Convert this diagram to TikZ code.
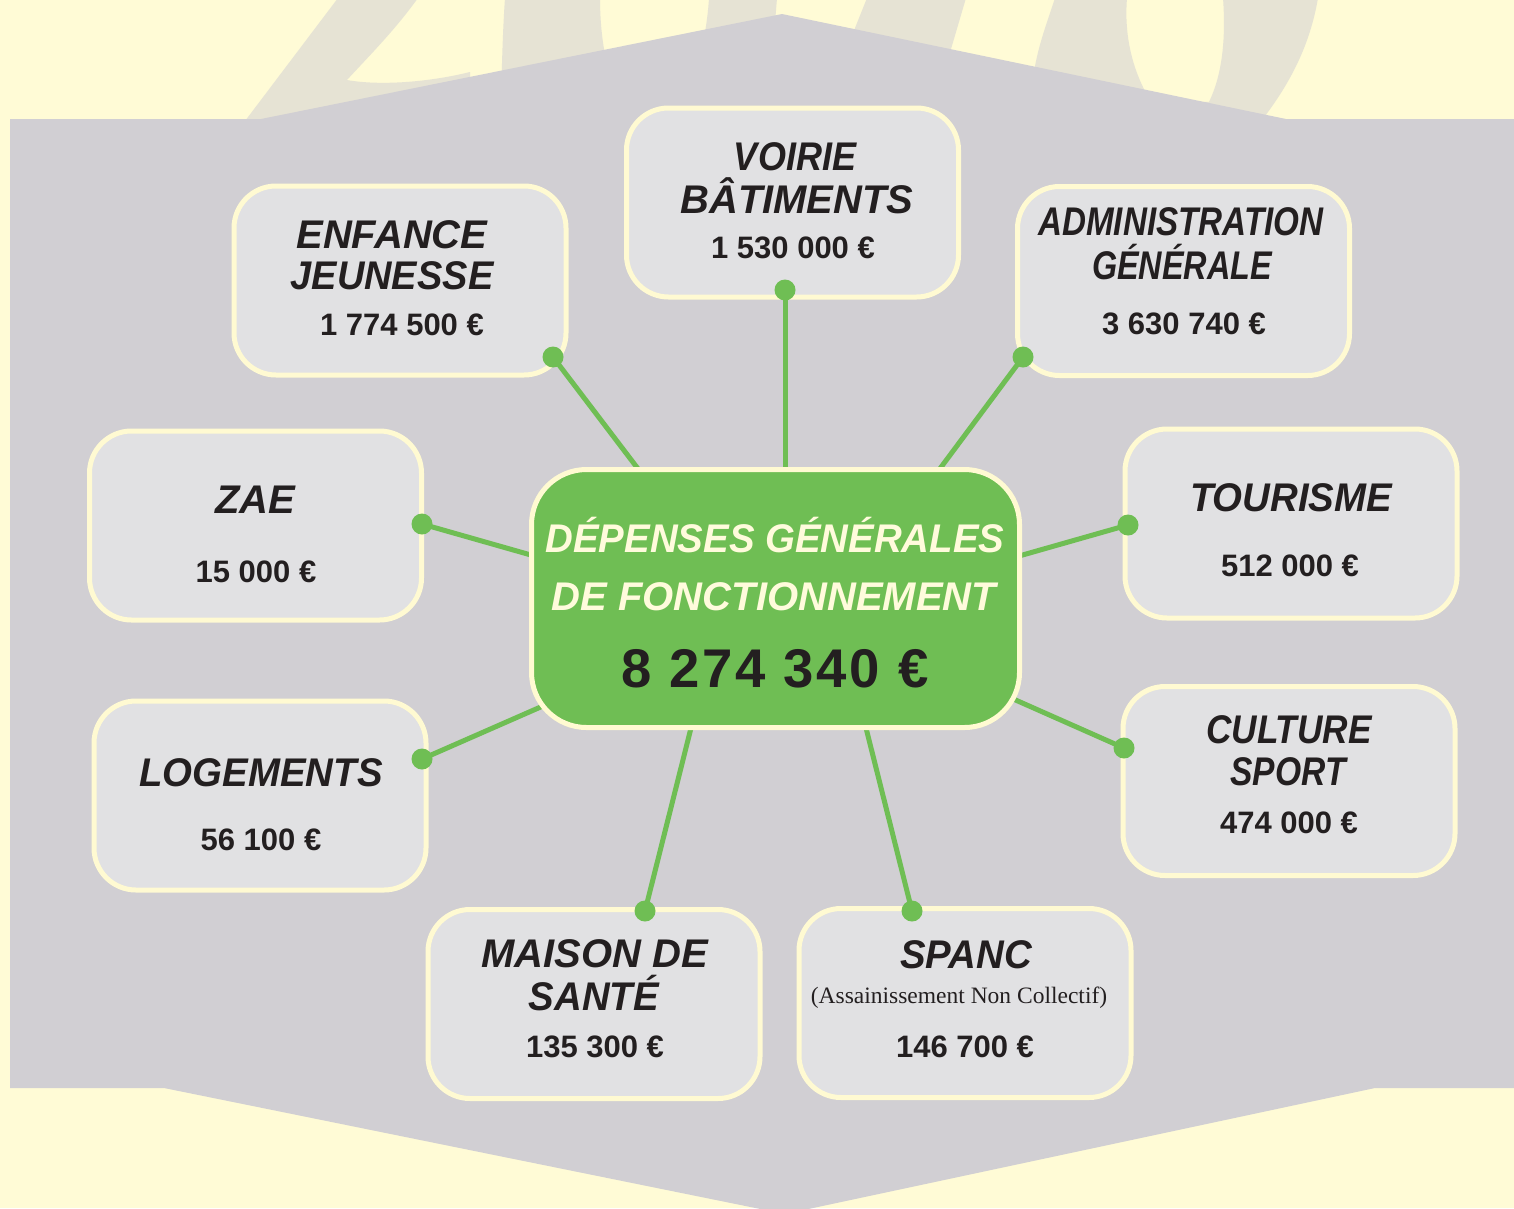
\documentclass[tikz,border=0pt]{standalone}
\usepackage{fontspec}
\usepackage{graphicx}
\setmainfont{Liberation Sans}
\newfontfamily\serf{Liberation Serif}
\newfontfamily\bignum{Liberation Sans}[LetterSpace=5]
\newcommand{\sx}[2]{\scalebox{#1}[1]{#2}}
\definecolor{bgyellow}{HTML}{FFFBD6}
\definecolor{beige}{HTML}{E6E3D4}
\definecolor{panel}{HTML}{D1CFD3}
\definecolor{boxfill}{HTML}{E1E1E3}
\definecolor{boxline}{HTML}{FFFAD2}
\definecolor{leafgreen}{HTML}{6FBE54}
\definecolor{ink}{HTML}{231F20}
\definecolor{cream}{HTML}{FFFBDC}
\tikzset{
  catbox/.style={draw=boxline, line width=5pt, fill=boxfill, rounded corners=42pt,
    minimum width=332pt, minimum height=189pt, inner sep=0pt},
  mainbox/.style={draw=boxline, line width=5pt, fill=leafgreen, rounded corners=55pt,
    minimum width=488pt, minimum height=258pt, inner sep=0pt},
  conn/.style={draw=leafgreen, line width=5pt},
  dot/.style={circle, fill=leafgreen, minimum size=21pt, inner sep=0pt},
  ttl/.style={font=\fontsize{40}{40}\selectfont\bfseries\itshape, text=ink, anchor=base, inner sep=0pt},
  ctl/.style={font=\fontsize{40}{40}\selectfont\bfseries\itshape, text=cream, anchor=base, inner sep=0pt},
  val/.style={font=\fontsize{31}{31}\selectfont\bfseries, text=ink, anchor=base, inner sep=0pt},
  sub/.style={font=\serf\fontsize{23.5}{23.5}\selectfont, text=ink, anchor=base, inner sep=0pt},
}
\begin{document}
\begin{tikzpicture}[x=1pt,y=-1pt]
\useasboundingbox (0,0) rectangle (1514,1208);
% background
\fill[bgyellow] (0,0) rectangle (1514,1208);
% faded digits behind the panel
\begin{scope}
\clip (0,0) rectangle (1514,1208);
\fill[beige] (242,125) -- (338,-2) -- (418,-2) .. controls (395,30) and (370,55) .. (347,80)
  .. controls (380,86) and (430,82) .. (470,72) -- (470,160) -- (242,160) -- cycle;
\fill[beige] (505,-2) -- (600,-2) .. controls (600,25) and (603,45) .. (606,60) -- (606,160) -- (500,160)
  .. controls (501,100) and (502,40) .. (505,-2) -- cycle;
\fill[beige] (709,-2) -- (777,-2) -- (772,60) -- (700,60) .. controls (705,35) and (708,15) .. (709,-2) -- cycle;
\fill[beige] (867,-2) -- (966,-2) -- (951,49) -- (938,120) -- (838,120) -- (855,28) -- cycle;
\fill[beige, even odd rule] (1055,-2) -- (1318,-2) .. controls (1310,45) and (1290,85) .. (1258,125)
  -- (1258,200) -- (1030,200) -- (1035,66) .. controls (1040,40) and (1048,20) .. (1055,-2) -- cycle
  (1127,-2) -- (1223,-2) .. controls (1226,40) and (1222,75) .. (1209,102) -- (1150,100)
  .. controls (1132,70) and (1124,35) .. (1127,-2) -- cycle;
\end{scope}
% grey panel
\fill[panel] (10,119) -- (261,119) -- (782,14) -- (1286,119) -- (1514,119) -- (1514,1088)
  -- (1375,1088) -- (785,1214) -- (164,1088) -- (10,1088) -- cycle;
% anchors of the connectors
\coordinate (e1) at (785,480);
\coordinate (e2) at (645,478);
\coordinate (e3) at (933,478);
\coordinate (e4) at (545,559);
\coordinate (e5) at (1005,560);
\coordinate (e6) at (552,702);
\coordinate (e7) at (1002,694);
\coordinate (e8) at (693,720);
\coordinate (e9) at (864,720);
\coordinate (p1) at (785,290);
\coordinate (p2) at (553,357);
\coordinate (p3) at (1023,357);
\coordinate (p4) at (422,524);
\coordinate (p5) at (1128,525);
\coordinate (p6) at (422,759);
\coordinate (p7) at (1124,748);
\coordinate (p8) at (645,911);
\coordinate (p9) at (912,911);
\foreach \i in {1,...,9} { \draw[conn] (p\i) -- (e\i); }
% category boxes
\node[catbox] (voirie) at (792.5,202.5) {};
\node[catbox] (enfance) at (400,280.5) {};
\node[catbox] (admin) at (1183.5,281) {};
\node[catbox] (zae) at (255.5,525.5) {};
\node[catbox] (tourisme) at (1291,523.5) {};
\node[catbox] (logements) at (260,795.5) {};
\node[catbox] (culture) at (1289,781) {};
\node[catbox] (maison) at (594,1004) {};
\node[catbox] (spanc) at (965,1003) {};
% dots
\foreach \i in {1,...,9} { \node[dot] (d\i) at (p\i) {}; }
% central box
\node[mainbox] (total) at (775.5,598.5) {};
% texts
\node[ttl] (t1a) at (795,170) {\sx{0.9}{VOIRIE}};
\node[ttl] (t1b) at (797,213) {BÂTIMENTS};
\node[val] (v1) at (793,258) {1 530 000 €};
\node[ttl] (t2a) at (392,248) {ENFANCE};
\node[ttl] (t2b) at (392,289) {\sx{0.95}{JEUNESSE}};
\node[val] (v2) at (402,335) {1 774 500 €};
\node[ttl] (t3a) at (1181,235) {\sx{0.83}{ADMINISTRATION}};
\node[ttl] (t3b) at (1182,279) {\sx{0.81}{GÉNÉRALE}};
\node[val] (v3) at (1184,334) {3 630 740 €};
\node[ttl] (t4a) at (255,513) {ZAE};
\node[val] (v4) at (256,582) {15 000 €};
\node[ttl] (t5a) at (1291,511) {\sx{0.96}{TOURISME}};
\node[val] (v5) at (1290,576) {512 000 €};
\node[ttl] (t6a) at (261,786) {\sx{0.96}{LOGEMENTS}};
\node[val] (v6) at (261,850) {56 100 €};
\node[ttl] (t7a) at (1289,743) {\sx{0.88}{CULTURE}};
\node[ttl] (t7b) at (1288,785) {\sx{0.84}{SPORT}};
\node[val] (v7) at (1289,833) {474 000 €};
\node[ttl] (t8a) at (595,967) {MAISON DE};
\node[ttl] (t8b) at (594,1010) {\sx{0.96}{SANTÉ}};
\node[val] (v8) at (595,1057) {135 300 €};
\node[ttl] (t9a) at (966,968) {\sx{0.96}{SPANC}};
\node[sub] (t9b) at (959,1003) {(Assainissement Non Collectif)};
\node[val] (v9) at (965,1057) {146 700 €};
\node[ctl] (c1) at (775,552) {\sx{0.96}{DÉPENSES GÉNÉRALES}};
\node[ctl] (c2) at (774,610) {DE FONCTIONNEMENT};
\node[anchor=base, inner sep=0pt, text=ink, font=\bignum\fontsize{54.5}{54.5}\selectfont\bfseries] (c3) at (775,687) {8 274 340 €};
\end{tikzpicture}
\end{document}
